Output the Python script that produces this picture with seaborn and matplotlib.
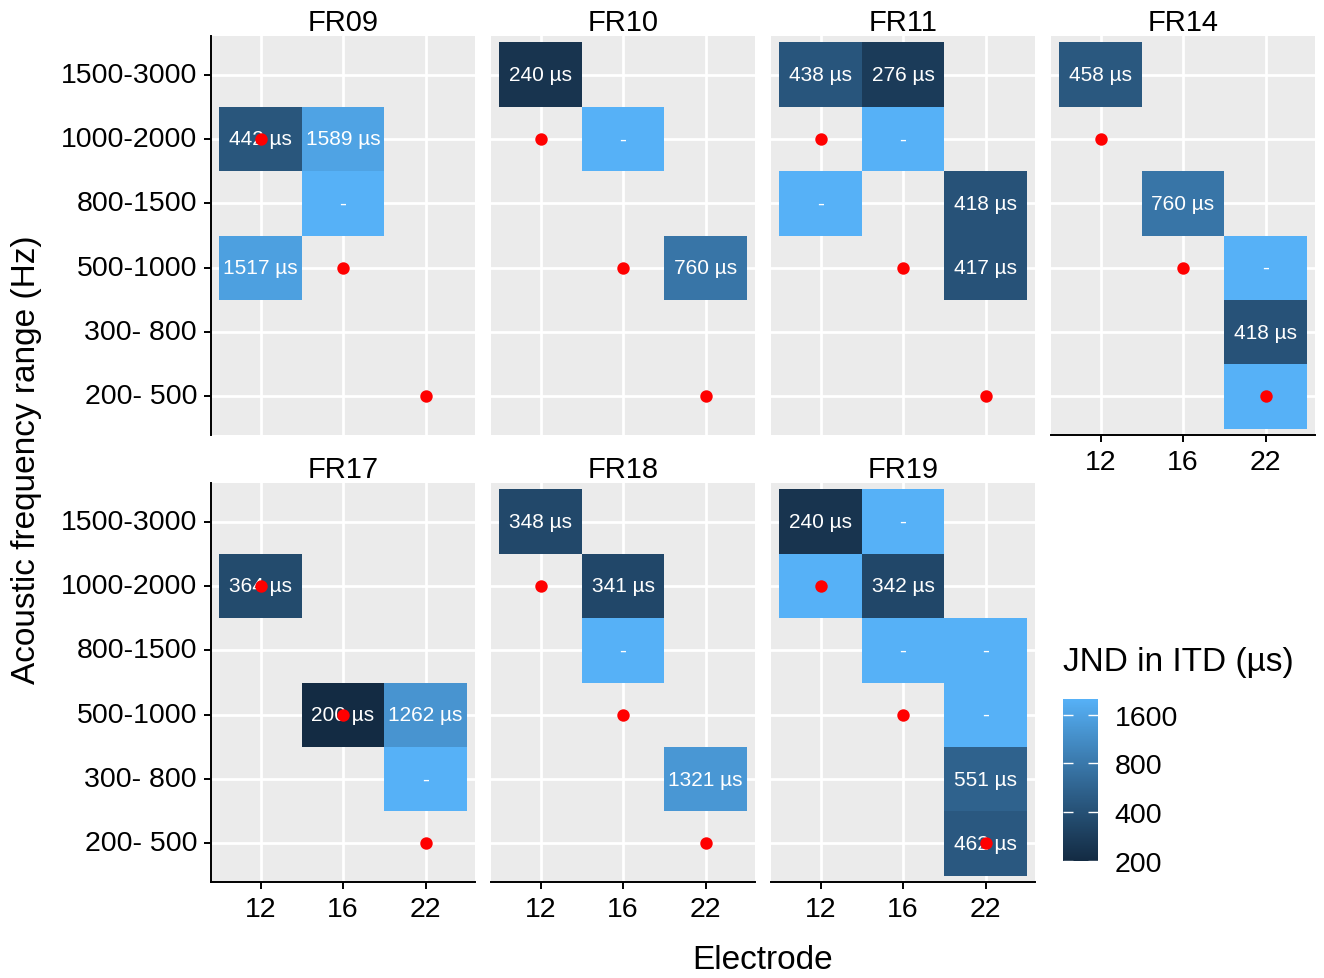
import numpy as np
import pandas as pd
import matplotlib
matplotlib.use("Agg")
import matplotlib.pyplot as plt
from matplotlib.colors import LinearSegmentedColormap, LogNorm
from matplotlib.cm import ScalarMappable
import seaborn as sns

plt.rcParams['font.family'] = ['Liberation Sans', 'DejaVu Sans']

# ---------------- data ----------------
subjects = ["FR09", "FR10", "FR11", "FR14", "FR17", "FR18", "FR19"]
electrodes = [12, 16, 22]
freq_ranges = ["200- 500", "300- 800", "500-1000", "800-1500", "1000-2000", "1500-3000"]

# measured JND cells: subject, electrode, frequency range, value (µs); "-" cells -> 2000 (ceiling)
cell_subject = ["FR09", "FR09", "FR09", "FR09",
                "FR10", "FR10", "FR10",
                "FR11", "FR11", "FR11", "FR11", "FR11", "FR11",
                "FR14", "FR14", "FR14", "FR14", "FR14",
                "FR17", "FR17", "FR17", "FR17",
                "FR18", "FR18", "FR18", "FR18",
                "FR19", "FR19", "FR19", "FR19", "FR19", "FR19", "FR19", "FR19", "FR19"]
cell_electrode = [12, 16, 16, 12,
                  12, 16, 22,
                  12, 16, 16, 12, 22, 22,
                  12, 16, 22, 22, 22,
                  12, 16, 22, 22,
                  12, 16, 16, 22,
                  12, 16, 12, 16, 16, 22, 22, 22, 22]
cell_freq = ["1000-2000", "1000-2000", "800-1500", "500-1000",
             "1500-3000", "1000-2000", "500-1000",
             "1500-3000", "1500-3000", "1000-2000", "800-1500", "800-1500", "500-1000",
             "1500-3000", "800-1500", "500-1000", "300- 800", "200- 500",
             "1000-2000", "500-1000", "500-1000", "300- 800",
             "1500-3000", "1000-2000", "800-1500", "300- 800",
             "1500-3000", "1500-3000", "1000-2000", "1000-2000", "800-1500", "800-1500", "500-1000", "300- 800", "200- 500"]
cell_value = [442, 1589, 2000, 1517,
              240, 2000, 760,
              438, 276, 2000, 2000, 418, 417,
              458, 760, 2000, 418, 2000,
              364, 200, 1262, 2000,
              348, 341, 2000, 1321,
              240, 2000, 2000, 342, 2000, 2000, 2000, 551, 462]
cell_label = ["442 µs", "1589 µs", "-", "1517 µs",
              "240 µs", "-", "760 µs",
              "438 µs", "276 µs", "-", "-", "418 µs", "417 µs",
              "458 µs", "760 µs", "-", "418 µs", "-",
              "364 µs", "200 µs", "1262 µs", "-",
              "348 µs", "341 µs", "-", "1321 µs",
              "240 µs", "-", "-", "342 µs", "-", "-", "-", "551 µs", "462 µs"]

# electrode place (red dots), same for every subject
dot_electrode = [12, 16, 22]
dot_freq = ["1000-2000", "500-1000", "200- 500"]

legend_breaks = [200, 400, 800, 1600]
scale_limits = (200, 2000)

df = pd.DataFrame({"subject": cell_subject, "electrode": cell_electrode,
                   "freq": cell_freq, "value": cell_value, "label": cell_label})

# ---------------- colour scale (ggplot default gradient in Lab) ----------------
_M = np.array([[0.4124, 0.3576, 0.1805], [0.2126, 0.7152, 0.0722], [0.0193, 0.1192, 0.9505]])
_WHITE = np.array([0.95047, 1.0, 1.08883])

def _srgb_to_lab(rgb):
    rgb = np.asarray(rgb, float)
    c = np.where(rgb <= 0.04045, rgb / 12.92, ((rgb + 0.055) / 1.055) ** 2.4)
    xyz = _M @ c / _WHITE
    f = np.where(xyz > 0.008856, np.cbrt(xyz), 7.787 * xyz + 16 / 116)
    return np.array([116 * f[1] - 16, 500 * (f[0] - f[1]), 200 * (f[1] - f[2])])

def _lab_to_srgb(lab):
    L, a, b = lab
    fy = (L + 16) / 116
    f = np.array([fy + a / 500, fy, fy - b / 200])
    xyz = np.where(f ** 3 > 0.008856, f ** 3, (f - 16 / 116) / 7.787) * _WHITE
    c = np.clip(np.linalg.inv(_M) @ xyz, 0, 1)
    rgb = np.where(c <= 0.0031308, 12.92 * c, 1.055 * c ** (1 / 2.4) - 0.055)
    return np.clip(rgb, 0, 1)

low = _srgb_to_lab(np.array([0x13, 0x2B, 0x43]) / 255)
high = _srgb_to_lab(np.array([0x56, 0xB1, 0xF7]) / 255)
cols = [_lab_to_srgb(low + t * (high - low)) for t in np.linspace(0, 1, 256)]
cmap = LinearSegmentedColormap.from_list("gg", cols)
norm = LogNorm(vmin=scale_limits[0], vmax=scale_limits[1])

# ---------------- figure ----------------
W, H = 1324, 979
fig = plt.figure(figsize=(W / 100, H / 100), dpi=100)
fig.patch.set_facecolor("white")

col_x = [211, 491, 771, 1051]
panel_w = 264
row_y = [(37, 436), (484, 883)]

def px_axes(x0, y0, x1, y1):
    return fig.add_axes([x0 / W, 1 - y1 / H, (x1 - x0) / W, (y1 - y0) / H])

rows_top_down = freq_ranges[::-1]
for i, subj in enumerate(subjects):
    r, c = divmod(i, 4)
    ax = px_axes(col_x[c], row_y[r][0], col_x[c] + panel_w, row_y[r][1])
    sub = df[df.subject == subj]
    mat = sub.pivot(index="freq", columns="electrode", values="value").reindex(index=rows_top_down, columns=electrodes)
    lab = sub.pivot(index="freq", columns="electrode", values="label").reindex(index=rows_top_down, columns=electrodes)
    lab = lab.fillna("")
    sns.heatmap(mat, ax=ax, cmap=cmap, norm=norm, cbar=False, annot=lab.values, fmt="",
                annot_kws={"color": "white", "fontsize": 15})
    ax.set_facecolor("#EBEBEB")
    ax.set_xlim(-0.1, 3.1)
    ax.set_ylim(6.1, -0.1)
    ax.set_xticks(np.arange(3) + 0.5)
    ax.set_xticklabels([str(e) for e in electrodes], rotation=0)
    ax.set_yticks(np.arange(6) + 0.5)
    ax.set_yticklabels(rows_top_down, rotation=0)
    ax.grid(True, color="white", linewidth=2)
    ax.set_axisbelow(True)
    ax.set_xlabel("")
    ax.set_ylabel("")
    # red dots at electrode place
    dx = [electrodes.index(e) + 0.5 for e in dot_electrode]
    dy = [rows_top_down.index(f) + 0.5 for f in dot_freq]
    ax.scatter(dx, dy, s=80, color="red", zorder=5, linewidths=0)
    ax.set_title(subj, fontsize=21, pad=3)

    show_left = (c == 0)
    show_bottom = (r == 1) or (subj == "FR14")
    for s in ax.spines.values():
        s.set_visible(False)
    ax.spines["left"].set_visible(show_left)
    ax.spines["bottom"].set_visible(show_bottom)
    ax.spines["left"].set_linewidth(1.4)
    ax.spines["bottom"].set_linewidth(1.4)
    ax.tick_params(axis="y", left=show_left, labelleft=show_left, labelsize=20.5,
                   length=5, width=1.4, pad=5, colors="black")
    ax.tick_params(axis="x", bottom=show_bottom, labelbottom=show_bottom, labelsize=20.5,
                   length=5, width=1.4, pad=5, colors="black")

# axis titles
fig.text(27 / W, 1 - 460 / H, "Acoustic frequency range (Hz)", rotation=90,
         ha="center", va="center", fontsize=24)
fig.text(763 / W, 1 - 961 / H, "Electrode", ha="center", va="center", fontsize=24)

# colour bar legend
fig.text(1063 / W, 1 - 662 / H, "JND in ITD (µs)", ha="left", va="center", fontsize=24)
cax = px_axes(1063, 700, 1098, 862)
sm = ScalarMappable(norm=norm, cmap=cmap)
cb = fig.colorbar(sm, cax=cax, orientation="vertical")
cb.outline.set_visible(False)
cb.ax.minorticks_off()
cb.set_ticks(legend_breaks)
cb.set_ticklabels([str(b) for b in legend_breaks])
cb.ax.tick_params(axis="y", direction="in", left=True, right=True, color="white",
                  length=7, width=1, labelsize=20.5, pad=12)
cb.ax.yaxis.set_minor_locator(matplotlib.ticker.NullLocator())

fig.savefig("out.png", dpi=100, facecolor="white")
